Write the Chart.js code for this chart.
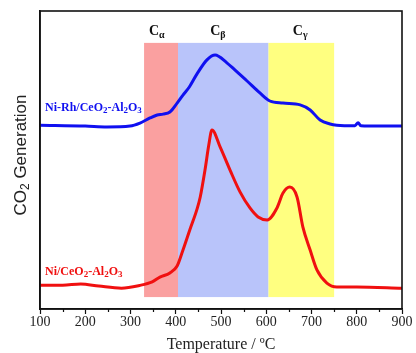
<!DOCTYPE html>
<html>
<head>
<meta charset="utf-8">
<script src="https://cdn.jsdelivr.net/npm/chart.js@4.4.1/dist/chart.umd.min.js"></script>
<style>
  html, body { margin: 0; padding: 0; background: #fff; }
  #wrap { width: 416px; height: 353px; }
</style>
</head>
<body>
<div id="wrap"><canvas id="tpo"></canvas></div>
<script>
// Ni-Rh/CeO2-Al2O3 (blue, upper trace)
const rhTemps  = [100, 200, 248, 299, 321, 343, 359, 372, 387, 403, 416, 430, 447, 469, 487, 513, 530, 557, 586, 608, 637, 675, 697, 719, 741, 756, 796, 803, 809, 850, 900];
const rhSignal = [61.7, 61.4, 61.1, 61.4, 62.4, 64.1, 65.1, 65.4, 66.1, 69.1, 71.8, 74.5, 78.9, 83.6, 85.2, 82.6, 80.3, 76.6, 72.5, 69.8, 69.1, 68.5, 66.8, 63.4, 62.1, 61.7, 61.5, 62.5, 61.5, 61.4, 61.4];

// Ni/CeO2-Al2O3 (red, lower trace)
const niTemps  = [100, 150, 190, 230, 280, 320, 348, 365, 387, 403, 416, 431, 447, 454, 465, 473, 480, 498, 520, 542, 564, 582, 602, 624, 637, 652, 668, 681, 697, 712, 734, 756, 800, 900];
const niSignal = [8.0, 8.0, 8.4, 7.7, 7.0, 7.9, 9.1, 10.7, 12.1, 14.4, 19.8, 26.5, 33.5, 37.5, 47.0, 55.0, 60.1, 54.4, 46.6, 39.3, 33.9, 30.9, 29.9, 34.0, 38.9, 40.9, 37.6, 27.5, 19.8, 13.1, 8.7, 7.4, 7.4, 7.0];

// shaded regions
const bandNames  = ['α', 'β', 'γ'];
const bandStart  = [330, 405, 605];
const bandEnd    = [405, 605, 750];
const bandLabelT = [358, 493, 675];
const bandColors = ['#faa0a0', '#b9c4fa', '#ffff80'];

const xTickValues = [100, 200, 300, 400, 500, 600, 700, 800, 900];

const SERIF = '"Liberation Serif", serif';
const SANS = '"Liberation Sans", Arial, sans-serif';

// draws text with lowered small parts, e.g. ['CeO', '2']
function drawParts(ctx, parts, x, y, size, color, align, weight, family) {
  ctx.save();
  ctx.fillStyle = color;
  ctx.textBaseline = 'middle';
  ctx.textAlign = 'left';
  const fonts = parts.map(p => `${weight} ${p[1] ? Math.round(size * 0.72) : size}px ${family}`);
  let total = 0;
  parts.forEach((p, i) => { ctx.font = fonts[i]; total += ctx.measureText(p[0]).width; });
  let cx = align === 'center' ? x - total / 2 : x;
  parts.forEach((p, i) => {
    ctx.font = fonts[i];
    ctx.fillText(p[0], cx, y + (p[1] ? size * 0.28 : 0));
    cx += ctx.measureText(p[0]).width;
  });
  ctx.restore();
}

const bandsPlugin = {
  id: 'bands',
  beforeDatasetsDraw(chart) {
    const { ctx, scales: { x, y } } = chart;
    const top = y.getPixelForValue(89.3), bottom = y.getPixelForValue(4);
    ctx.save();
    bandStart.forEach((s, i) => {
      const x0 = x.getPixelForValue(s), x1 = x.getPixelForValue(bandEnd[i]);
      ctx.fillStyle = bandColors[i];
      ctx.fillRect(x0, top, x1 - x0, bottom - top);
      drawParts(ctx, [['C', 0], [bandNames[i], 1]], x.getPixelForValue(bandLabelT[i]), top - 11, 14, '#111', 'center', 'bold', SERIF);
    });
    ctx.restore();
  },
  afterDatasetsDraw(chart) {
    const { ctx, chartArea: a, scales: { x, y } } = chart;
    // series labels
    drawParts(ctx, [['Ni-Rh/CeO', 0], ['2', 1], ['-Al', 0], ['2', 1], ['O', 0], ['3', 1]],
      a.left + 5, y.getPixelForValue(67.6), 12, '#1010f0', 'left', 'bold', SERIF);
    drawParts(ctx, [['Ni/CeO', 0], ['2', 1], ['-Al', 0], ['2', 1], ['O', 0], ['3', 1]],
      a.left + 5, y.getPixelForValue(12.6), 12, '#f01010', 'left', 'bold', SERIF);
    // y axis title, rotated
    ctx.save();
    ctx.translate(21, (a.top + a.bottom) / 2 - 5);
    ctx.rotate(-Math.PI / 2);
    drawParts(ctx, [['CO', 0], ['2', 1], [' Generation', 0]], 0, 0, 17, '#222', 'center', 'normal', SANS);
    ctx.restore();
    // frame + minor ticks
    ctx.save();
    ctx.strokeStyle = '#111';
    ctx.lineWidth = 1.6;
    ctx.strokeRect(a.left, a.top, a.right - a.left, a.bottom - a.top);
    ctx.lineWidth = 1.2;
    for (let t = 150; t < 900; t += 100) {
      const px = Math.round(x.getPixelForValue(t)) + 0.5;
      ctx.beginPath();
      ctx.moveTo(px, a.bottom);
      ctx.lineTo(px, a.bottom + 3);
      ctx.stroke();
    }
    ctx.restore();
  }
};

new Chart(document.getElementById('tpo'), {
  type: 'line',
  data: {
    datasets: [
      {
        label: 'Ni-Rh/CeO2-Al2O3',
        data: rhTemps.map((t, i) => ({ x: t, y: rhSignal[i] })),
        borderColor: '#1010f0',
        borderWidth: 3,
        pointRadius: 0,
        fill: false,
        cubicInterpolationMode: 'monotone'
      },
      {
        label: 'Ni/CeO2-Al2O3',
        data: niTemps.map((t, i) => ({ x: t, y: niSignal[i] })),
        borderColor: '#f01010',
        borderWidth: 3,
        pointRadius: 0,
        fill: false,
        cubicInterpolationMode: 'monotone'
      }
    ]
  },
  options: {
    responsive: true,
    maintainAspectRatio: false,
    animation: false,
    layout: { padding: { top: 11, right: 14, left: 0, bottom: 0 } },
    plugins: { legend: { display: false }, tooltip: { enabled: false } },
    scales: {
      x: {
        type: 'linear',
        min: 100,
        max: 900,
        afterBuildTicks: s => { s.ticks = xTickValues.map(v => ({ value: v })); },
        afterFit: s => { s.height = 44; },
        ticks: {
          color: '#222',
          padding: 0,
          maxRotation: 0,
          font: { family: SERIF, size: 14 }
        },
        grid: { drawOnChartArea: false, drawTicks: true, tickLength: 5, tickColor: '#111', tickWidth: 1.2 },
        border: { display: true, color: '#111', width: 1.6 },
        title: {
          display: true,
          text: 'Temperature / ºC',
          color: '#222',
          padding: { top: 0, bottom: 0 },
          font: { family: SERIF, size: 16, lineHeight: 1 }
        }
      },
      y: {
        min: 0,
        max: 100,
        afterFit: s => { s.width = 40; },
        ticks: { display: false },
        grid: { display: false },
        border: { display: true, color: '#111', width: 1.6 },
        title: { display: false }
      }
    }
  },
  plugins: [bandsPlugin]
});
</script>
</body>
</html>
